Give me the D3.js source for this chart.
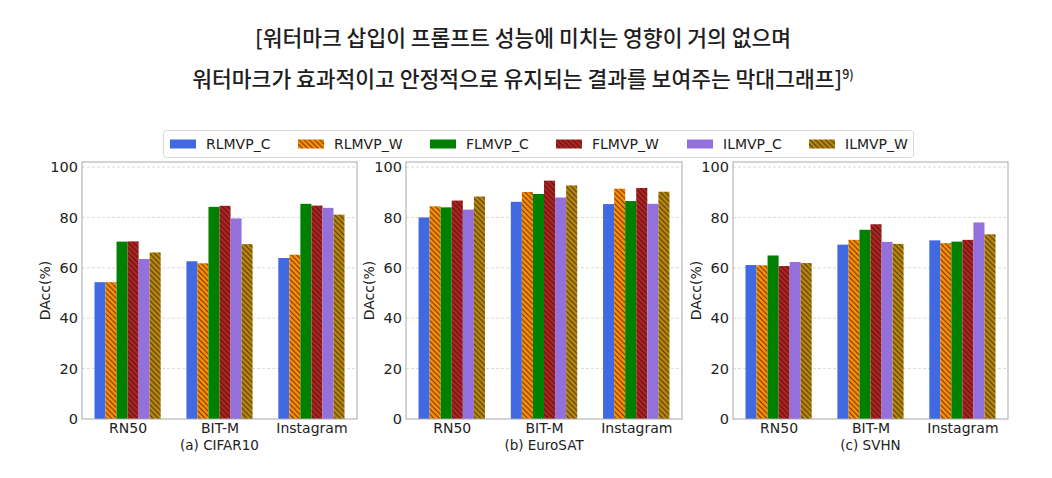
<!DOCTYPE html>
<html><head><meta charset="utf-8">
<script src="https://cdn.jsdelivr.net/npm/d3@7"></script>
<style>
html,body{margin:0;padding:0;background:#fff;}
svg{display:block;}
</style></head>
<body>
<svg id="chart" width="1052" height="478"></svg>
<script>
// ---- data ----
const categories = ["RN50", "BIT-M", "Instagram"];
const seriesNames = ["RLMVP_C", "RLMVP_W", "FLMVP_C", "FLMVP_W", "ILMVP_C", "ILMVP_W"];
const seriesColors = ["#4169E1", "#FF8C00", "#008000", "#B22222", "#9370DB", "#B8860B"];
const seriesHatched = [false, true, false, true, false, true];
const yTicks = [0, 20, 40, 60, 80, 100];
const panelTitles = ["(a) CIFAR10", "(b) EuroSAT", "(c) SVHN"];
// values per series (rows) across categories (columns)
const cifar10 = [
  [54.3, 62.6, 63.9],
  [54.3, 61.8, 65.2],
  [70.4, 84.2, 85.4],
  [70.5, 84.6, 84.7],
  [63.5, 79.6, 83.8],
  [66.1, 69.4, 81.1]
];
const eurosat = [
  [80.0, 86.2, 85.3],
  [84.4, 90.1, 91.4],
  [84.0, 89.3, 86.5],
  [86.7, 94.6, 91.7],
  [83.1, 87.9, 85.4],
  [88.3, 92.7, 90.2]
];
const svhn = [
  [61.1, 69.2, 70.9],
  [61.0, 71.1, 69.8],
  [64.9, 75.1, 70.4],
  [60.7, 77.3, 71.1],
  [62.3, 70.3, 78.0],
  [61.9, 69.5, 73.3]
];
const titleLine1 = "[워터마크 삽입이 프롬프트 성능에 미치는 영향이 거의 없으며";
const titleLine2 = "워터마크가 효과적이고 안정적으로 유지되는 결과를 보여주는 막대그래프]";
const titleSup = "9)";

// ---- drawing ----
(function () {
const svg = d3.select("#chart");
const FONT = "DejaVu Sans, sans-serif";
const defs = svg.append("defs");
seriesColors.forEach((c, i) => {
  if (!seriesHatched[i]) return;
  const p = defs.append("pattern").attr("id", "hatch" + i)
    .attr("patternUnits", "userSpaceOnUse").attr("width", 5.2).attr("height", 5.2);
  p.append("rect").attr("width", 5.2).attr("height", 5.2).attr("fill", c);
  p.append("path").attr("d", "M0,0L5.2,5.2M-1,4.2L1,6.2M4.2,-1L6.2,1")
    .attr("stroke", "rgba(30,20,10,0.75)").attr("stroke-width", 1);
});
const fillFor = i => seriesHatched[i] ? `url(#hatch${i})` : seriesColors[i];

// title
const tg = svg.append("g").attr("font-family", "Noto Sans CJK KR, sans-serif")
  .attr("font-weight", 500).attr("fill", "#1e1e1e");
tg.append("text").attr("x", 523).attr("y", 46).attr("text-anchor", "middle")
  .attr("font-size", 21.5).text(titleLine1);
const t2 = tg.append("text").attr("x", 523).attr("y", 87).attr("text-anchor", "middle")
  .attr("font-size", 21.5);
t2.append("tspan").text(titleLine2);
t2.append("tspan").attr("font-size", 12.5).attr("dy", -8).text(titleSup);

// legend
const lg = svg.append("g");
lg.append("rect").attr("x", 163.5).attr("y", 130.5).attr("width", 750).attr("height", 27)
  .attr("rx", 3).attr("fill", "#fff").attr("stroke", "#d8d8d8");
const legendX = [170, 298, 430, 556, 687, 809];
seriesNames.forEach((n, i) => {
  const g = lg.append("g").attr("transform", `translate(${legendX[i]},144)`);
  g.append("rect").attr("x", 0).attr("y", -4.5).attr("width", 26).attr("height", 9).attr("fill", fillFor(i));
  g.append("text").attr("x", 36).attr("y", 5).attr("font-family", FONT).attr("font-size", 14)
    .attr("fill", "#222").text(n);
});

// panels
const panels = [
  { data: cifar10, left: 82, right: 357, ylabX: 45 },
  { data: eurosat, left: 406, right: 682, ylabX: 369 },
  { data: svhn, left: 733, right: 1008, ylabX: 696 }
];
const pTop = 162, pBottom = 419;
const barW = 0.12;
const half = barW * 3;
const margin = (2 + 2 * half) * 0.05;
panels.forEach((p, pi) => {
  const g = svg.append("g");
  const x = d3.scaleLinear().domain([-half - margin, 2 + half + margin]).range([p.left, p.right]);
  const y = d3.scaleLinear().domain([0, 102]).range([pBottom, pTop]);
  // grid
  g.append("g").selectAll("line").data(yTicks.filter(t => t > 0)).join("line")
    .attr("x1", p.left).attr("x2", p.right)
    .attr("y1", d => y(d)).attr("y2", d => y(d))
    .attr("stroke", "#d0d0d0").attr("stroke-dasharray", "3,2").attr("stroke-width", 0.8);
  // bars
  p.data.forEach((vals, si) => {
    g.append("g").selectAll("rect").data(vals).join("rect")
      .attr("x", (d, ci) => x(ci - half + si * barW))
      .attr("width", x(barW) - x(0))
      .attr("y", d => y(d))
      .attr("height", d => y(0) - y(d))
      .attr("fill", fillFor(si));
  });
  // frame
  g.append("rect").attr("x", p.left).attr("y", pTop).attr("width", p.right - p.left)
    .attr("height", pBottom - pTop).attr("fill", "none").attr("stroke", "#a8a8a8").attr("stroke-width", 1);
  // y axis
  const ya = d3.axisLeft(y).tickValues(yTicks).tickSize(0).tickPadding(4);
  const yg = g.append("g").attr("transform", `translate(${p.left},0)`).call(ya);
  yg.select(".domain").remove();
  yg.selectAll("text").attr("font-family", FONT).attr("font-size", 14.5).attr("fill", "#222");
  // x axis
  const xa = d3.axisBottom(x).tickValues([0, 1, 2]).tickFormat(i => categories[i]).tickSize(0).tickPadding(4);
  const xg = g.append("g").attr("transform", `translate(0,${pBottom})`).call(xa);
  xg.select(".domain").remove();
  xg.selectAll("text").attr("font-family", FONT).attr("font-size", 14).attr("fill", "#222");
  // labels
  g.append("text").attr("transform", `translate(${p.ylabX},${(pTop + pBottom) / 2}) rotate(-90)`)
    .attr("text-anchor", "middle").attr("dy", "0.35em").attr("font-family", FONT)
    .attr("font-size", 14).attr("fill", "#222").text("DAcc(%)");
  g.append("text").attr("x", x(1)).attr("y", 450).attr("text-anchor", "middle")
    .attr("font-family", FONT).attr("font-size", 13.5).attr("fill", "#222").text(panelTitles[pi]);
});
})();
</script>
</body></html>
